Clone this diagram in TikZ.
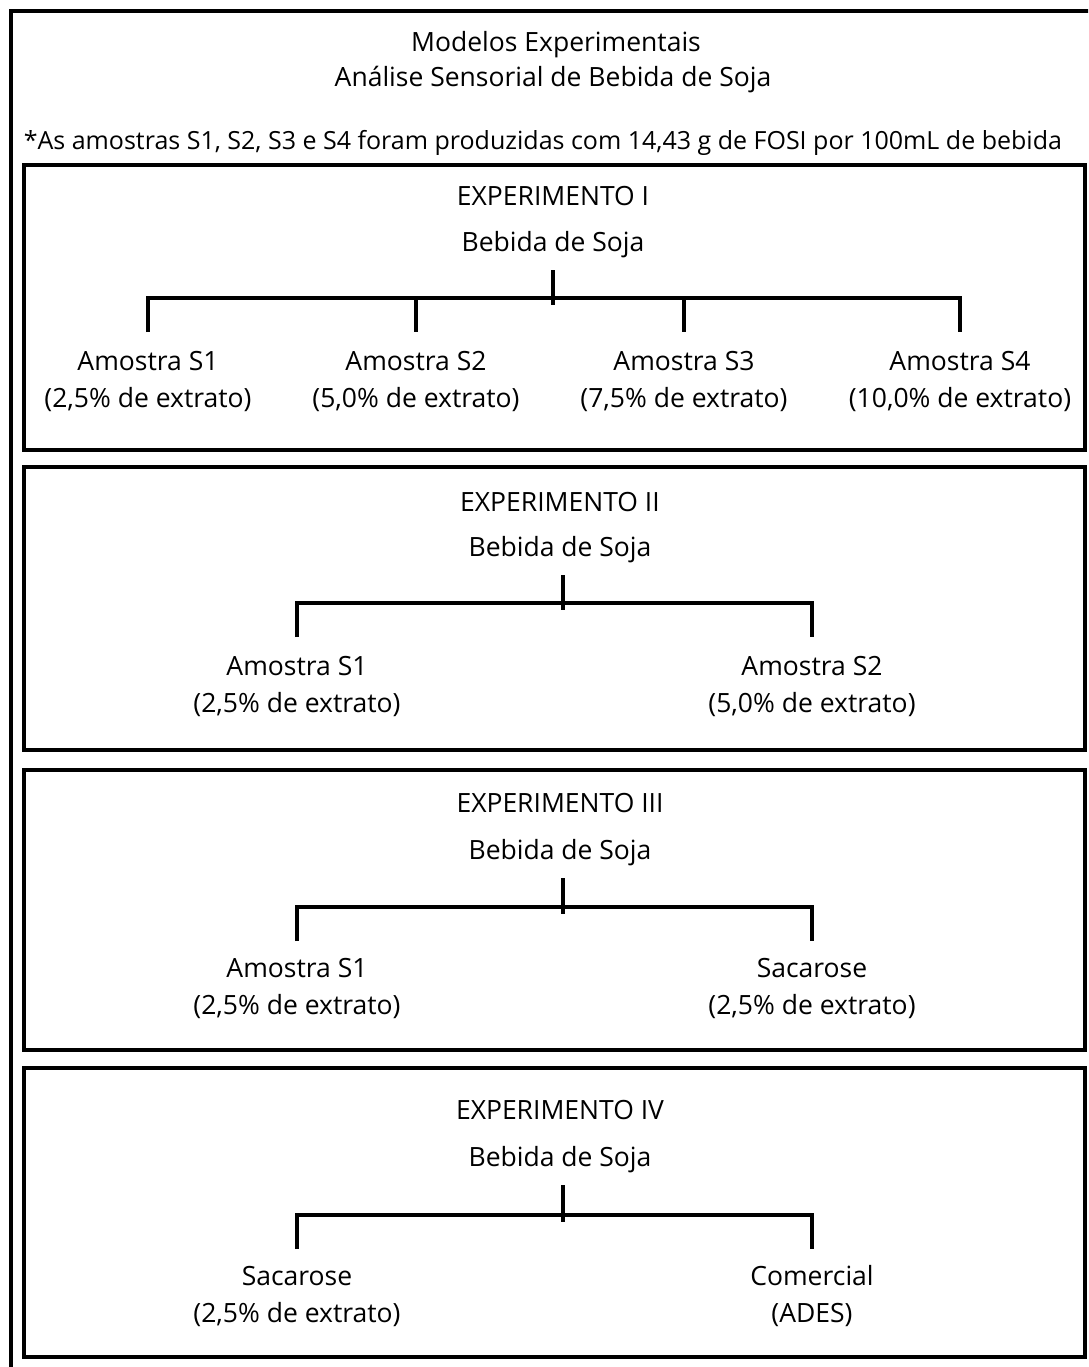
\documentclass[tikz,border=0pt]{standalone}
\usepackage{fontspec}
\setmainfont{Open Sans}
\begin{document}
\begin{tikzpicture}[x=1pt,y=-1pt,line width=3.5pt,
	txt/.style={font=\fontsize{26.5}{37}\selectfont, inner sep=0pt, align=center}]
	\useasboundingbox (0,0) rectangle (1088,1367);
	\clip (0,0) rectangle (1088,1367);
	\draw (11,11) rectangle (1110,1390);
	\node[txt] (title1) at (556,45) {Modelos Experimentais};
	\node[txt] (title2) at (553,80) {Análise Sensorial de Bebida de Soja};
	\node[txt, font=\fontsize{25}{30}\selectfont, anchor=west] (note) at (22,143) {*As amostras S1, S2, S3 e S4 foram produzidas com 14,43 g de FOSI por 100mL de bebida};
	% experimento I
	\draw (24,165) rectangle (1085,450);
	\node[txt] (e1) at (553,196) {EXPERIMENTO I};
	\node[txt] (b1) at (553,245) {Bebida de Soja};
	\coordinate (j1) at (553,298);
	\node[txt] (a1) at (148,381) {Amostra S1\\(2,5\% de extrato)};
	\node[txt] (a2) at (416,381) {Amostra S2\\(5,0\% de extrato)};
	\node[txt] (a3) at (684,381) {Amostra S3\\(7,5\% de extrato)};
	\node[txt] (a4) at (960,381) {Amostra S4\\(10,0\% de extrato)};
	\draw (a1 |- j1) ++(0,34) -- (a1 |- j1) -- (a4 |- j1) -- ++(0,34);
	\draw (a2 |- j1) -- ++(0,34);
	\draw (a3 |- j1) -- ++(0,34);
	\draw (j1 |- b1.south) ++(0,10) -- ([yshift=-7pt]j1);
	% experimento II
	\draw (24,467) rectangle (1085,750);
	\node[txt] (e2) at (560,502) {EXPERIMENTO II};
	\node[txt] (b2) at (560,550) {Bebida de Soja};
	\coordinate (j2) at (563,603);
	\node[txt] (c1) at (297,686) {Amostra S1\\(2,5\% de extrato)};
	\node[txt] (c2) at (812,686) {Amostra S2\\(5,0\% de extrato)};
	\draw (c1 |- j2) ++(0,34) -- (c1 |- j2) -- (c2 |- j2) -- ++(0,34);
	\draw (j2 |- b2.south) ++(0,10) -- ([yshift=-7pt]j2);
	% experimento III
	\draw (24,770) rectangle (1085,1050);
	\node[txt] (e3) at (560,803) {EXPERIMENTO III};
	\node[txt] (b3) at (560,853) {Bebida de Soja};
	\coordinate (j3) at (563,907);
	\node[txt] (d1) at (297,988) {Amostra S1\\(2,5\% de extrato)};
	\node[txt] (d2) at (812,988) {Sacarose\\(2,5\% de extrato)};
	\draw (d1 |- j3) ++(0,34) -- (d1 |- j3) -- (d2 |- j3) -- ++(0,34);
	\draw (j3 |- b3.south) ++(0,10) -- ([yshift=-7pt]j3);
	% experimento IV
	\draw (24,1068) rectangle (1085,1357);
	\node[txt] (e4) at (560,1110) {EXPERIMENTO IV};
	\node[txt] (b4) at (560,1160) {Bebida de Soja};
	\coordinate (j4) at (563,1215);
	\node[txt] (f1) at (297,1296) {Sacarose\\(2,5\% de extrato)};
	\node[txt] (f2) at (812,1296) {Comercial\\(ADES)};
	\draw (f1 |- j4) ++(0,34) -- (f1 |- j4) -- (f2 |- j4) -- ++(0,34);
	\draw (j4 |- b4.south) ++(0,10) -- ([yshift=-7pt]j4);
\end{tikzpicture}
\end{document}
